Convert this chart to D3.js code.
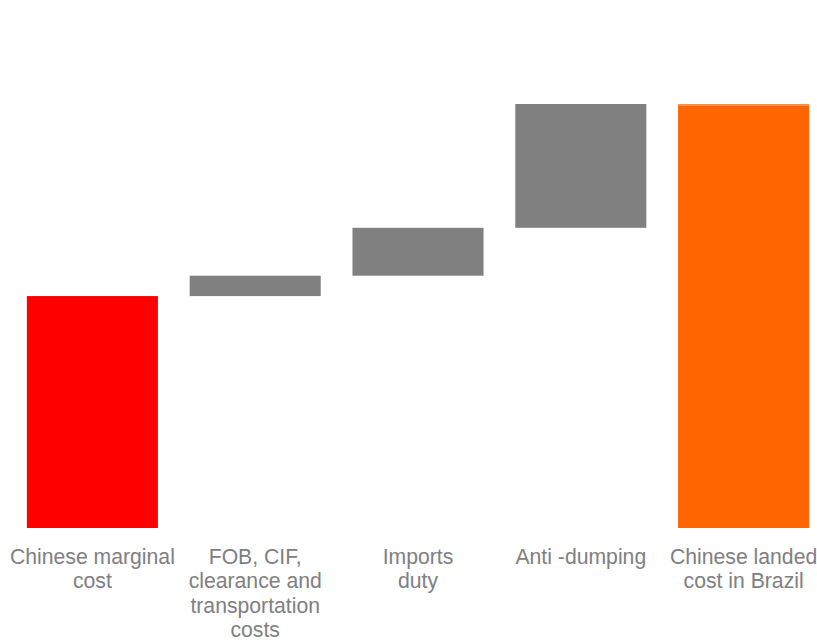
<!DOCTYPE html>
<html>
<head>
<meta charset="utf-8">
<script src="https://cdn.jsdelivr.net/npm/d3@7"></script>
<style>
  html, body { margin: 0; padding: 0; background: #fff; }
  svg { display: block; }
</style>
</head>
<body>
<svg id="chart" width="817" height="642"></svg>
<script>
// Cost build-up from Chinese marginal cost to landed cost in Brazil (index, landed cost = 100)
const categories = [
  ["Chinese marginal", "cost"],
  ["FOB, CIF,", "clearance and", "transportation", "costs"],
  ["Imports", "duty"],
  ["Anti -dumping"],
  ["Chinese landed", "cost in Brazil"]
];
const steps = [54.7, 4.8, 11.3, 29.2];   // starting cost, then increments
const kinds = ["start", "step", "step", "step", "total"];
const colors = { start: "#ff0000", step: "#808080", total: "#ff6600" };

// Build waterfall segments
let running = 0;
const bars = categories.map((c, i) => {
  if (kinds[i] === "total") return { i, y0: 0, y1: running, kind: kinds[i] };
  const y0 = running;
  running += steps[i];
  return { i, y0: kinds[i] === "start" ? 0 : y0, y1: running, kind: kinds[i] };
});

const svg = d3.select("#chart");

const x = d3.scaleBand()
  .domain(d3.range(categories.length))
  .range([11, 825])
  .paddingInner(0.195)
  .paddingOuter(0.0975);

const y = d3.scaleLinear()
  .domain([0, 100])
  .range([528, 104]);

svg.append("g")
  .selectAll("rect")
  .data(bars)
  .join("rect")
  .attr("x", d => x(d.i))
  .attr("width", x.bandwidth())
  .attr("y", d => y(d.y1))
  .attr("height", d => y(d.y0) - y(d.y1))
  .attr("fill", d => colors[d.kind]);

// light edge along the top of the total bar
const tot = bars[bars.length - 1];
svg.append("rect")
  .attr("x", x(tot.i))
  .attr("width", x.bandwidth())
  .attr("y", y(tot.y1))
  .attr("height", 2)
  .attr("fill", "#ff8f45");

// Category labels
const labels = svg.append("g")
  .attr("font-family", "'Liberation Sans', Arial, sans-serif")
  .attr("font-size", 21.2)
  .attr("fill", "#808080")
  .attr("text-anchor", "middle");

labels.selectAll("text")
  .data(categories)
  .join("text")
  .attr("transform", (d, i) => `translate(${x(i) + x.bandwidth() / 2},563.5)`)
  .selectAll("tspan")
  .data(d => d)
  .join("tspan")
  .attr("x", 0)
  .attr("y", (d, j) => j * 24.6)
  .text(d => d);
</script>
</body>
</html>
